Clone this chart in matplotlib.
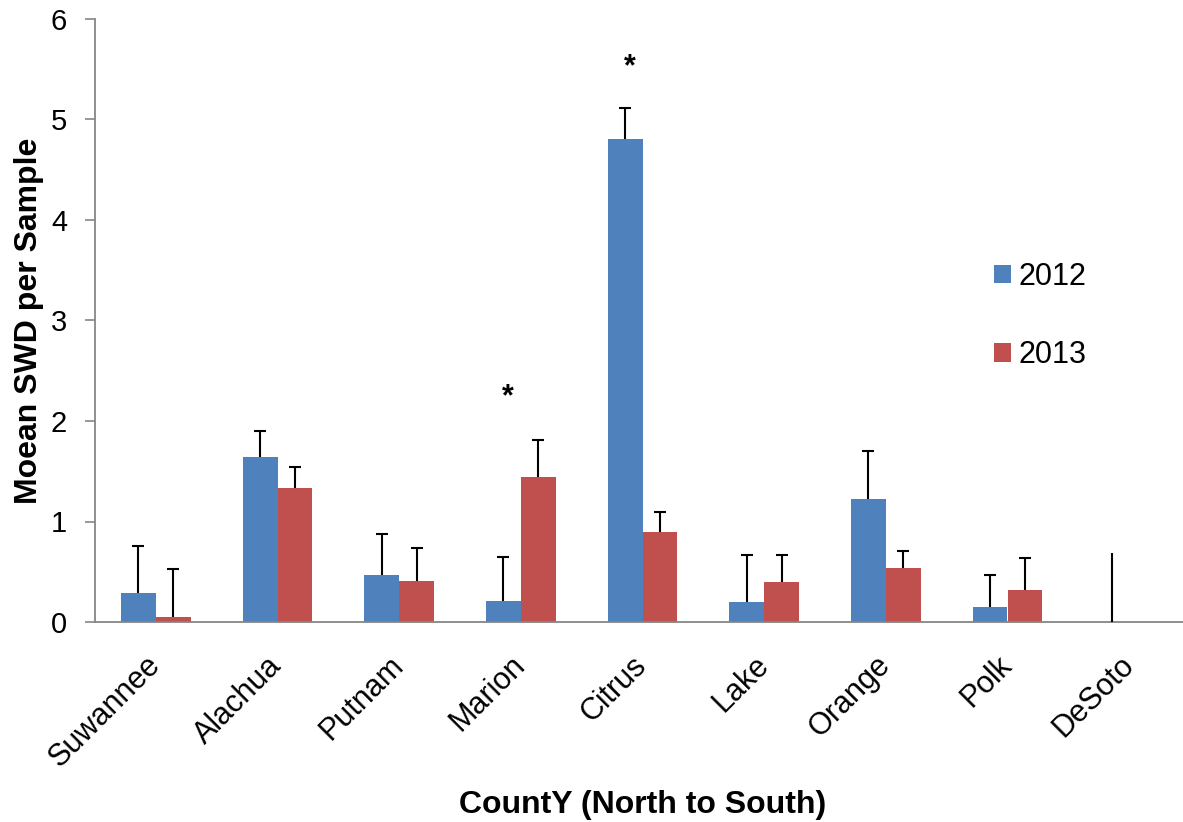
import numpy as np
import matplotlib
matplotlib.use('Agg')
from matplotlib import pyplot as plt

counties = ['Suwannee', 'Alachua', 'Putnam', 'Marion', 'Citrus',
            'Lake', 'Orange', 'Polk', 'DeSoto']
mean_2012 = [0.285, 1.64, 0.47, 0.206, 4.806, 0.20, 1.22, 0.15, 0.0]
err_2012 = [0.475, 0.26, 0.41, 0.444, 0.31, 0.47, 0.48, 0.32, 0.69]
mean_2013 = [0.047, 1.33, 0.41, 1.443, 0.90, 0.40, 0.54, 0.32, 0.0]
err_2013 = [0.48, 0.21, 0.33, 0.37, 0.19, 0.27, 0.17, 0.32, 0.0]
# significance marks: (county index, y of the star)
stars = [(3, 2.29), (4, 5.575)]

blue = '#4F81BD'
red = '#C0504D'
grey = '#868686'

plt.rcParams['font.family'] = ['Liberation Sans', 'DejaVu Sans']

W, H = 1183, 822
fig = plt.figure(figsize=(W / 100, H / 100), dpi=100)
ax = fig.add_axes([95 / W, 1 - 622 / H, 1095 / W, 603 / H])

x = np.arange(len(counties))
bw = 0.285
off = bw / 2

ax.bar(x - off, mean_2012, bw, color=blue, label='2012', zorder=2)
ax.bar(x + off, mean_2013, bw, color=red, label='2013', zorder=2)


def upper_err(xs, ys, errs, cap=True):
    # one-sided (upper) error bars with a cap only on top
    ys = np.asarray(ys)
    errs = np.asarray(errs)
    ax.errorbar(xs, ys, yerr=[np.zeros(len(errs)), errs], fmt='none',
                ecolor='black', elinewidth=1.5, capsize=0, zorder=3)
    if cap:
        ax.plot(xs, ys + errs, linestyle='none', marker='_', markersize=9,
                markeredgewidth=1.5, color='black', zorder=3)


n = len(counties) - 1
upper_err(x[:n] - off, mean_2012[:n], err_2012[:n])
upper_err(x[:n] + off, mean_2013[:n], err_2013[:n])
# DeSoto whisker has no cap in the original
upper_err(x[n:] - off, mean_2012[n:], err_2012[n:], cap=False)

for i, ys in stars:
    ax.annotate('*', (i - off + 0.035, ys), xytext=(0, -9.6),
                textcoords='offset points', ha='center', va='baseline',
                fontsize=22, fontweight='bold')

ax.set_xlim(-0.5, len(counties) - 0.5)
ax.set_ylim(0, 6)
ax.set_yticks(range(0, 7))
ax.set_xticks(x)
ax.set_xticklabels(counties, rotation=45, ha='right', va='center',
                   rotation_mode='anchor')
ax.tick_params(axis='y', labelsize=21, length=7, width=1.2, color=grey, pad=13)
ax.tick_params(axis='x', labelsize=22, length=0, pad=28)

for s in ['top', 'right']:
    ax.spines[s].set_visible(False)
for s in ['left', 'bottom']:
    ax.spines[s].set_color(grey)
    ax.spines[s].set_linewidth(1.3)

ax.set_ylabel('Moean SWD per Sample', fontsize=23, fontweight='bold', labelpad=5)
ax.set_xlabel('CountY (North to South)', fontsize=23, fontweight='bold', labelpad=12)

fig.legend(loc='upper left', bbox_to_anchor=(994 / W, 1 - 262 / H),
           frameon=False, fontsize=22, handlelength=0.555, handleheight=0.555,
           handletextpad=0.26, labelspacing=1.58, borderpad=0, borderaxespad=0)

fig.savefig('out.png', dpi=100)
